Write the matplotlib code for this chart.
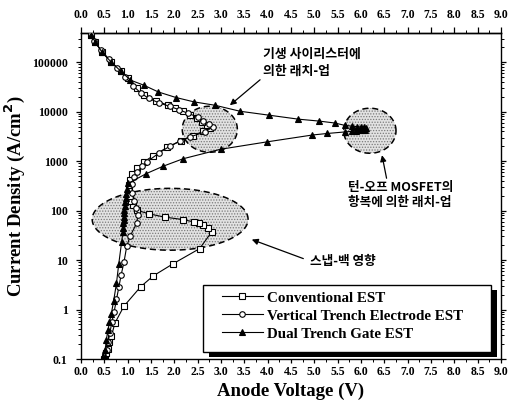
import numpy as np
import matplotlib
matplotlib.use("Agg")
import matplotlib.pyplot as plt
from matplotlib.patches import Polygon, Rectangle
from matplotlib.ticker import FixedLocator, MultipleLocator, LogLocator, NullFormatter

# ---- data: anode voltage (V) vs current density (A/cm^2) ----
conv_v = [0.50, 0.52, 0.54, 0.57, 0.61, 0.65, 0.73, 0.92, 1.28, 1.55, 1.98, 2.54, 2.80, 2.73,
          2.61, 2.53, 2.42, 2.18, 1.79, 1.46, 1.19, 1.11, 1.08, 1.05, 1.03, 1.02, 1.04, 1.10,
          1.20, 1.34, 1.55, 1.85, 2.15, 2.40, 2.62, 2.76, 2.69, 2.59, 2.48, 2.34, 2.19, 2.01,
          1.87, 1.61, 1.35, 1.19, 1.00, 0.86, 0.65, 0.45, 0.30, 0.22]
conv_j = [0.1, 0.11, 0.13, 0.16, 0.22, 0.29, 0.54, 1.17, 2.9, 4.8, 8.5, 17, 37, 44,
          52, 55, 59, 66, 74, 86, 102, 129, 160, 200, 260, 330, 420, 560,
          720, 950, 1300, 1900, 2600, 3300, 4000, 4600, 5350, 6200, 7300, 8500, 10400, 12100,
          13500, 16500, 21500, 30000, 48000, 65000, 100000, 160000, 260000, 355000]

vte_v = [0.52, 0.55, 0.58, 0.62, 0.66, 0.71, 0.76, 0.81, 0.86, 0.92, 0.98, 1.05, 1.19, 1.22,
         1.18, 1.13, 1.10, 1.09, 1.14, 1.21, 1.30, 1.42, 1.68, 1.90, 2.12, 2.34, 2.66, 2.82,
         2.74, 2.62, 2.50, 2.30, 2.10, 1.90, 1.68, 1.45, 1.28, 1.12, 0.95, 0.78, 0.60, 0.42,
         0.28, 0.21]
vte_j = [0.1, 0.15, 0.22, 0.34, 0.55, 0.9, 1.6, 2.8, 5, 9, 19, 30, 55, 80,
         115, 160, 230, 350, 480, 610, 780, 980, 1480, 2000, 2570, 3100, 3900, 4900,
         5600, 6600, 7800, 9200, 11000, 12800, 15000, 18500, 24000, 33000, 50000, 75000, 115000, 180000,
         270000, 370000]

dtg_v = [0.50, 0.51, 0.52, 0.54, 0.58, 0.61, 0.65, 0.70, 0.76, 0.81, 0.87, 0.90, 0.91, 0.91,
         0.92, 0.92, 0.93, 0.93, 0.94, 0.95, 0.96, 0.97, 0.99, 1.01, 1.40, 1.76, 2.19, 2.99,
         3.98, 4.96, 5.28, 5.66, 5.80, 5.90, 5.98, 6.05, 6.09, 6.10, 6.06, 6.00, 5.92, 5.80,
         5.65, 5.44, 5.11, 4.66, 4.03, 3.41, 2.87, 2.42, 2.04, 1.66, 1.34, 1.06, 0.86, 0.65,
         0.45, 0.30, 0.22]
dtg_j = [0.1, 0.11, 0.15, 0.24, 0.39, 0.56, 0.83, 1.5, 3.4, 8.5, 23, 37, 45, 55,
         65, 75, 90, 105, 125, 150, 180, 220, 280, 355, 560, 790, 1120, 1740,
         2450, 3380, 3630, 3900, 4000, 4100, 4200, 4250, 4300, 4600, 4800, 4900, 5000, 5100,
         5300, 5900, 6450, 7060, 8500, 10200, 13500, 15800, 19300, 25000, 34500, 43500, 65000, 100000,
         160000, 260000, 360000]

series_labels = ["Conventional EST", "Vertical Trench Electrode EST", "Dual Trench Gate EST"]

x_ticks = [0.0, 0.5, 1.0, 1.5, 2.0, 2.5, 3.0, 3.5, 4.0, 4.5, 5.0, 5.5, 6.0, 6.5, 7.0, 7.5, 8.0, 8.5, 9.0]
x_tick_labels = [f"{v:.1f}" for v in x_ticks]
y_ticks = [0.1, 1, 10, 100, 1000, 10000, 100000]
y_tick_labels = ["0.1", "1", "10", "100", "1000", "10000", "100000"]

# highlighted regions: (centre V, half-width V, centre log10 J, half-height decades)
regions = [(2.76, 0.59, 3.645, 0.465),
           (6.19, 0.56, 3.615, 0.455),
           (1.91, 1.67, 1.825, 0.625)]

serif = ["Liberation Serif", "DejaVu Serif"]
korean = ["Noto Sans CJK KR", "DejaVu Sans"]

plt.rcParams["hatch.linewidth"] = 0.6

fig = plt.figure(figsize=(5.11, 4.03), dpi=100)
ax = fig.add_axes([81 / 511, 44 / 403, 420 / 511, 326 / 403])

ax.set_yscale("log")
ax.set_xlim(0, 9.0)
ax.set_ylim(0.1, 3.9e5)

# shaded ellipses, drawn in (V, log J) space so they stay elliptical on a log axis
t = np.linspace(0, 2 * np.pi, 300)
for cx, a, cy, b in regions:
    pts = np.column_stack([cx + a * np.cos(t), 10 ** (cy + b * np.sin(t))])
    ax.add_patch(Polygon(pts, closed=True, facecolor="#e2e2e2", edgecolor="#7a7a7a",
                         hatch="......", linewidth=0, zorder=1))
    ax.add_patch(Polygon(pts, closed=True, facecolor="none", edgecolor="black",
                         linestyle=(0, (4, 2.5)), linewidth=1.1, zorder=2))

ax.plot(conv_v, conv_j, color="black", lw=0.8, marker="s", ms=4, mfc="white", mec="black",
        mew=0.8, label=series_labels[0], zorder=4)
ax.plot(vte_v, vte_j, color="black", lw=0.8, marker="o", ms=4, mfc="white", mec="black",
        mew=0.8, label=series_labels[1], zorder=4)
ax.plot(dtg_v, dtg_j, color="black", lw=0.8, marker="^", ms=5, mfc="black", mec="black",
        mew=0.8, label=series_labels[2], zorder=5)

# bottom / left / right ticks
ax.xaxis.set_major_locator(FixedLocator(x_ticks))
ax.xaxis.set_minor_locator(MultipleLocator(0.25))
ax.yaxis.set_major_locator(FixedLocator(y_ticks))
ax.yaxis.set_minor_locator(LogLocator(base=10, subs=np.arange(2, 10)))
ax.yaxis.set_minor_formatter(NullFormatter())
ax.set_xticklabels(x_tick_labels)
ax.set_yticklabels(y_tick_labels)
ax.tick_params(which="both", direction="out", top=False, right=True, labelsize=8.5)
ax.tick_params(axis="x", which="major", length=3.2, width=0.9, pad=1.5)
ax.tick_params(axis="x", which="minor", length=1.8, width=0.7)
ax.tick_params(axis="y", which="major", length=3.6, width=0.9, pad=6)
ax.tick_params(axis="y", which="minor", length=2.0, width=0.7)

# top axis repeats the voltage scale
top = ax.secondary_xaxis("top")
top.set_xticks(x_ticks, labels=x_tick_labels)
top.xaxis.set_minor_locator(MultipleLocator(0.25))
top.tick_params(which="both", direction="out", labelsize=8.5)
top.tick_params(which="major", length=4.3, width=0.9, pad=4.5)
top.tick_params(which="minor", length=2.2, width=0.7)
top.spines["top"].set_linewidth(1.0)

for axis in (ax.xaxis, ax.yaxis, top.xaxis):
    for tk in axis.get_major_ticks():
        for lab in (tk.label1, tk.label2):
            lab.set_fontfamily(serif)
            lab.set_fontweight("bold")
for sp in ax.spines.values():
    sp.set_linewidth(1.0)

ax.set_xlabel("Anode Voltage (V)", family=serif, fontweight="bold", fontsize=13.5)
ax.xaxis.set_label_coords(0.5, -0.074)
ax.set_ylabel("Current Density (A/cm$^\\mathbf{2}$)", family=serif, fontweight="bold",
              fontsize=13.5)
ax.yaxis.set_label_coords(-0.128, 0.5)

# annotations (text placed in axes fraction, arrow tips in data)
arrow = dict(arrowstyle="-|>", color="black", lw=0.9, mutation_scale=9, shrinkA=0, shrinkB=0)
ax.annotate("기생 사이리스터에\n의한 래치-업", xy=(3.19, 1.35e4), xytext=(0.433, 0.91),
            textcoords="axes fraction", family=korean, fontweight="bold", fontsize=9.3,
            ha="left", va="center", linespacing=1.2,
            arrowprops=dict(arrow, relpos=(0.0, 0.0)))
ax.annotate("턴-오프 MOSFET의\n항복에 의한 래치-업", xy=(6.45, 1.32e3), xytext=(0.636, 0.503),
            textcoords="axes fraction", family=korean, fontweight="bold", fontsize=9.1,
            ha="left", va="center", linespacing=1.2,
            arrowprops=dict(arrow, relpos=(0.37, 1.0)))
ax.annotate("스냅-백 영향", xy=(3.66, 26), xytext=(0.545, 0.298),
            textcoords="axes fraction", family=korean, fontweight="bold", fontsize=9.1,
            ha="left", va="center",
            arrowprops=dict(arrow, relpos=(-0.1, 0.75)))

# legend box with a solid offset shadow
box_x0, box_y0, box_w, box_h = (203 - 81) / 420, (359 - 352) / 326, 288 / 420, 67 / 326
ax.add_patch(Rectangle((box_x0 + 6 / 420, box_y0 - 5 / 326), box_w, box_h, transform=ax.transAxes,
                       facecolor="black", edgecolor="none", zorder=8, clip_on=False))
ax.add_patch(Rectangle((box_x0, box_y0), box_w, box_h, transform=ax.transAxes,
                       facecolor="white", edgecolor="black", linewidth=1.0, zorder=9, clip_on=False))
leg = ax.legend(loc="upper left", bbox_to_anchor=((222 - 81) / 420, (359 - 291) / 326),
                frameon=False, handlelength=2.7, handletextpad=0.3, borderpad=0,
                borderaxespad=0, labelspacing=0.3,
                prop={"family": serif, "weight": "bold", "size": 10.8})
leg.set_zorder(10)

fig.savefig("out.png", dpi=100)
